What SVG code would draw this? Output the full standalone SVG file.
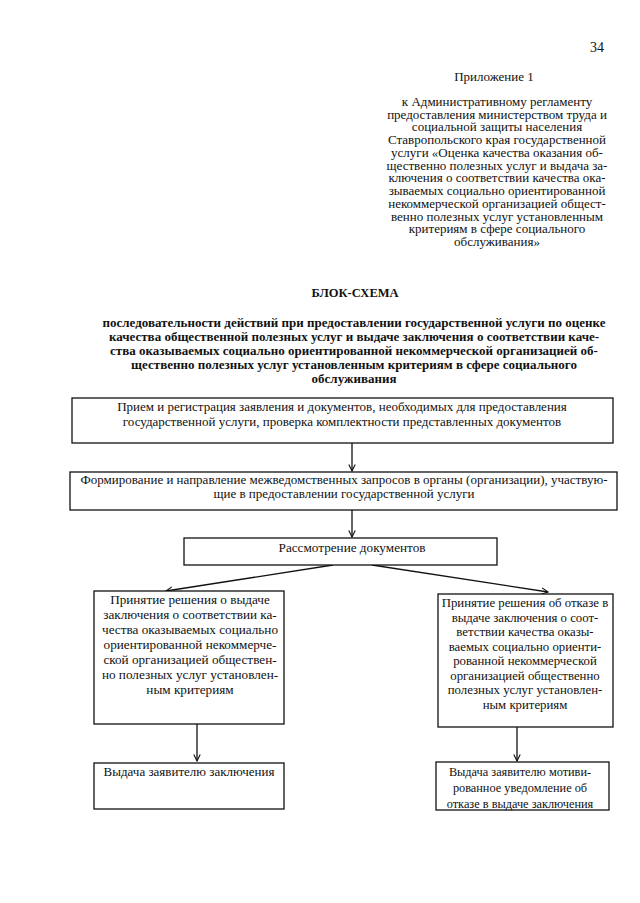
<svg xmlns="http://www.w3.org/2000/svg" width="640" height="903" viewBox="0 0 640 903">
<style>
text{font-family:"Liberation Serif","Times New Roman",serif;fill:#111;}
.h{font-size:13px;text-anchor:middle;}
.b{font-size:13px;font-weight:bold;text-anchor:middle;}
.t{font-size:13px;text-anchor:middle;}
.s{font-size:13.2px;text-anchor:middle;}
.r{font-size:12.8px;text-anchor:middle;}
.box{fill:#fff;stroke:#111;stroke-width:1.3;}
.c{stroke:#111;stroke-width:1.3;fill:none;}
</style>
<defs>
<marker id="ah" viewBox="0 0 10 10" refX="9" refY="5" markerWidth="8" markerHeight="8" markerUnits="userSpaceOnUse" orient="auto">
<path d="M1,1 L9,5 L1,9" fill="none" stroke="#111" stroke-width="1.4"/>
</marker>
</defs>
<rect width="640" height="903" fill="#fff"/>
<g id="header">
<text x="597" y="52" style="font-size:14px;text-anchor:middle;">34</text>
<text x="494" y="81" class="h">Приложение 1</text>
<text x="497" y="106" class="h">к Административному регламенту</text>
<text x="497" y="119" class="h">предоставления министерством труда и</text>
<text x="497" y="131" class="h">социальной защиты населения</text>
<text x="497" y="144" class="h">Ставропольского края государственной</text>
<text x="497" y="157" class="h">услуги «Оценка качества оказания об-</text>
<text x="497" y="170" class="h">щественно полезных услуг и выдача за-</text>
<text x="497" y="182" class="h">ключения о соответствии качества ока-</text>
<text x="497" y="195" class="h">зываемых социально ориентированной</text>
<text x="497" y="208" class="h">некоммерческой организацией общест-</text>
<text x="497" y="221" class="h">венно полезных услуг установленным</text>
<text x="497" y="233" class="h">критериям в сфере социального</text>
<text x="497" y="246" class="h">обслуживания»</text>
</g>
<g id="title">
<text x="355" y="297" class="b" style="font-size:12.5px;">БЛОК-СХЕМА</text>
<text x="354" y="327" class="b">последовательности действий при предоставлении государственной услуги по оценке</text>
<text x="354" y="341" class="b">качества общественной полезных услуг и выдаче заключения о соответствии каче-</text>
<text x="354" y="355" class="b">ства оказываемых социально ориентированной некоммерческой организацией об-</text>
<text x="354" y="369" class="b">щественно полезных услуг установленным критериям в сфере социального</text>
<text x="354" y="383" class="b">обслуживания</text>
</g>
<g id="connectors">
<line class="c" x1="352" y1="443" x2="352" y2="471" marker-end="url(#ah)"/>
<line class="c" x1="352" y1="510" x2="352" y2="537" marker-end="url(#ah)"/>
<line class="c" x1="333" y1="565" x2="166" y2="591" marker-end="url(#ah)"/>
<line class="c" x1="372" y1="565" x2="548" y2="592" marker-end="url(#ah)"/>
<line class="c" x1="197" y1="724" x2="197" y2="761" marker-end="url(#ah)"/>
<line class="c" x1="517" y1="727" x2="517" y2="761" marker-end="url(#ah)"/>
</g>
<g id="n1">
<rect class="box" x="72" y="398" width="541" height="45"/>
<text x="342" y="411" class="t">Прием и регистрация заявления и документов, необходимых для предоставления</text>
<text x="342" y="426" class="t">государственной услуги, проверка комплектности представленных документов</text>
</g>
<g id="n2">
<rect class="box" x="70" y="472" width="547" height="38"/>
<text x="344" y="484" class="t">Формирование и направление межведомственных запросов в органы (организации), участвую-</text>
<text x="344" y="498" class="t">щие в предоставлении государственной услуги</text>
</g>
<g id="n3">
<rect class="box" x="184" y="538" width="313" height="27"/>
<text x="352" y="552" class="s">Рассмотрение документов</text>
</g>
<g id="n4">
<rect class="box" x="94" y="591" width="190" height="133"/>
<text x="190" y="604" class="s">Принятие решения о выдаче</text>
<text x="190" y="619" class="s">заключения о соответствии ка-</text>
<text x="190" y="634" class="s">чества оказываемых социально</text>
<text x="190" y="649" class="s">ориентированной некоммерче-</text>
<text x="190" y="664" class="s">ской организацией обществен-</text>
<text x="190" y="679" class="s">но полезных услуг установлен-</text>
<text x="190" y="694" class="s">ным критериям</text>
</g>
<g id="n5">
<rect class="box" x="438" y="594" width="175" height="133"/>
<text x="525" y="607" class="r">Принятие решения об отказе в</text>
<text x="525" y="622" class="r">выдаче заключения о соот-</text>
<text x="525" y="636" class="r">ветствии качества оказы-</text>
<text x="525" y="651" class="r">ваемых социально ориенти-</text>
<text x="525" y="665" class="r">рованной некоммерческой</text>
<text x="525" y="680" class="r">организацией общественно</text>
<text x="525" y="694" class="r">полезных услуг установлен-</text>
<text x="525" y="709" class="r">ным критериям</text>
</g>
<g id="n6">
<rect class="box" x="94" y="763" width="190" height="46"/>
<text x="189" y="776" class="t">Выдача заявителю заключения</text>
</g>
<g id="n7">
<rect class="box" x="436" y="762" width="173" height="48"/>
<text x="520" y="776" class="t" style="font-size:12.3px;">Выдача заявителю мотиви-</text>
<text x="520" y="792" class="t" style="font-size:12.3px;">рованное уведомление об</text>
<text x="520" y="808" class="t" style="font-size:12.3px;">отказе в выдаче заключения</text>
</g>
</svg>
